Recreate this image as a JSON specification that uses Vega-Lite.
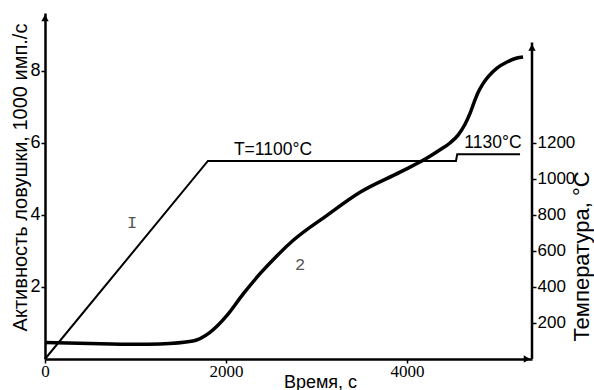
{
  "$schema": "https://vega.github.io/schema/vega-lite/v6.json",
  "width": 487,
  "height": 346,
  "autosize": "none",
  "padding": {"left": 45, "top": 13, "right": 62, "bottom": 31},
  "background": "white",
  "config": {"view": {"stroke": null}, "font": "Liberation Sans"},
  "datasets": {
    "curve": [
      {"t": 0, "a": 0.46},
      {"t": 500, "a": 0.43},
      {"t": 1000, "a": 0.41},
      {"t": 1270, "a": 0.42},
      {"t": 1635, "a": 0.5},
      {"t": 1823, "a": 0.74},
      {"t": 2011, "a": 1.21},
      {"t": 2188, "a": 1.8},
      {"t": 2376, "a": 2.37},
      {"t": 2564, "a": 2.87},
      {"t": 2740, "a": 3.29},
      {"t": 3116, "a": 3.99},
      {"t": 3481, "a": 4.63},
      {"t": 3923, "a": 5.19},
      {"t": 4221, "a": 5.58},
      {"t": 4365, "a": 5.81},
      {"t": 4475, "a": 6.0},
      {"t": 4564, "a": 6.22},
      {"t": 4641, "a": 6.52},
      {"t": 4696, "a": 6.82},
      {"t": 4740, "a": 7.12},
      {"t": 4785, "a": 7.4},
      {"t": 4840, "a": 7.65},
      {"t": 4900, "a": 7.85},
      {"t": 4994, "a": 8.08},
      {"t": 5105, "a": 8.25},
      {"t": 5215, "a": 8.36},
      {"t": 5282, "a": 8.39}
    ],
    "temp": [
      {"t": 0, "T": 0},
      {"t": 1800, "T": 1100},
      {"t": 4541, "T": 1100},
      {"t": 4555, "T": 1138},
      {"t": 5249, "T": 1138}
    ],
    "labels": [
      {"t": 2519, "a": 5.8, "txt": "T=1100°C", "kind": "main"},
      {"t": 4950, "a": 6.0, "txt": "1130°C", "kind": "main"},
      {"t": 961, "a": 3.79, "txt": "I", "kind": "num"},
      {"t": 2818, "a": 2.6, "txt": "2", "kind": "num"}
    ],
    "rightaxis": [
      {"t": 5381, "a0": 0, "a1": 8.79}
    ],
    "arrows": [
      {"t": 0, "a": 9.47, "shape": "triangle-up"},
      {"t": 5381, "a": 8.65, "shape": "triangle-up"},
      {"t": 5325, "a": 0, "shape": "triangle-right"}
    ]
  },
  "layer": [
    {
      "layer": [
        {
          "data": {"name": "curve"},
          "mark": {"type": "line", "color": "black", "strokeWidth": 3.5, "interpolate": "monotone"},
          "encoding": {
            "x": {
              "field": "t", "type": "quantitative",
              "scale": {"domain": [0, 5381], "nice": false, "zero": false},
              "axis": {
                "values": [0, 2000, 4000],
                "format": "d",
                "grid": false,
                "domainColor": "black", "domainWidth": 2.5,
                "tickColor": "black", "tickSize": 4, "tickWidth": 1.5,
                "labelFont": "Liberation Serif", "labelFontSize": 17, "labelColor": "black",
                "labelPadding": 0, "labelFlush": false,
                "title": "Время, с", "titleFont": "Liberation Sans", "titleFontSize": 18,
                "titleFontWeight": "normal", "titleColor": "black",
                "titleX": 275, "titleY": 23, "titleBaseline": "middle", "titleAlign": "center"
              }
            },
            "y": {
              "field": "a", "type": "quantitative",
              "scale": {"domain": [0, 9.61], "nice": false, "zero": false},
              "axis": {
                "values": [2, 4, 6, 8],
                "format": "d",
                "grid": false,
                "domainColor": "black", "domainWidth": 2.5,
                "tickColor": "black", "tickSize": 4, "tickWidth": 1.5,
                "labelFont": "Liberation Sans", "labelFontSize": 18, "labelColor": "black",
                "labelPadding": 1,
                "title": "Активность ловушки, 1000 имп./с", "titleFont": "Liberation Sans",
                "titleFontSize": 20, "titleFontWeight": "normal", "titleColor": "black",
                "titleAngle": 270, "titleX": -25, "titleY": 164,
                "titleBaseline": "middle", "titleAlign": "center"
              }
            }
          }
        },
        {
          "data": {"name": "rightaxis"},
          "mark": {"type": "rule", "color": "black", "strokeWidth": 2.5},
          "encoding": {
            "x": {"field": "t", "type": "quantitative"},
            "y": {"field": "a0", "type": "quantitative"},
            "y2": {"field": "a1"}
          }
        },
        {
          "data": {"name": "arrows"},
          "mark": {"type": "point", "filled": true, "color": "black", "opacity": 1, "size": 55},
          "encoding": {
            "x": {"field": "t", "type": "quantitative"},
            "y": {"field": "a", "type": "quantitative"},
            "shape": {"field": "shape", "type": "nominal", "scale": null, "legend": null}
          }
        },
        {
          "data": {"name": "labels"},
          "transform": [{"filter": "datum.kind == 'main'"}],
          "mark": {"type": "text", "font": "Liberation Sans", "fontSize": 17.5, "color": "black", "baseline": "middle", "align": "center"},
          "encoding": {
            "x": {"field": "t", "type": "quantitative"},
            "y": {"field": "a", "type": "quantitative"},
            "text": {"field": "txt"}
          }
        },
        {
          "data": {"name": "labels"},
          "transform": [{"filter": "datum.kind == 'num'"}],
          "mark": {"type": "text", "font": "Liberation Mono", "fontSize": 17, "color": "#555555", "baseline": "middle", "align": "center"},
          "encoding": {
            "x": {"field": "t", "type": "quantitative"},
            "y": {"field": "a", "type": "quantitative"},
            "text": {"field": "txt"}
          }
        }
      ]
    },
    {
      "data": {"name": "temp"},
      "mark": {"type": "line", "color": "black", "strokeWidth": 2},
      "encoding": {
        "x": {"field": "t", "type": "quantitative"},
        "y": {
          "field": "T", "type": "quantitative",
          "scale": {"domain": [0, 1922], "nice": false, "zero": false},
          "axis": {
            "orient": "right",
            "values": [200, 400, 600, 800, 1000, 1200],
            "format": "d",
            "grid": false,
            "domain": false,
            "tickColor": "black", "tickSize": 4, "tickWidth": 1.5,
            "labelFont": "Liberation Sans", "labelFontSize": 17, "labelColor": "black",
            "labelPadding": 1,
            "title": "Температура, °С", "titleFont": "Liberation Sans",
            "titleFontSize": 22, "titleFontWeight": "normal", "titleColor": "black",
            "titleAngle": 270, "titleX": 49, "titleY": 243,
            "titleBaseline": "middle", "titleAlign": "center"
          }
        }
      }
    }
  ],
  "resolve": {"scale": {"y": "independent"}}
}
